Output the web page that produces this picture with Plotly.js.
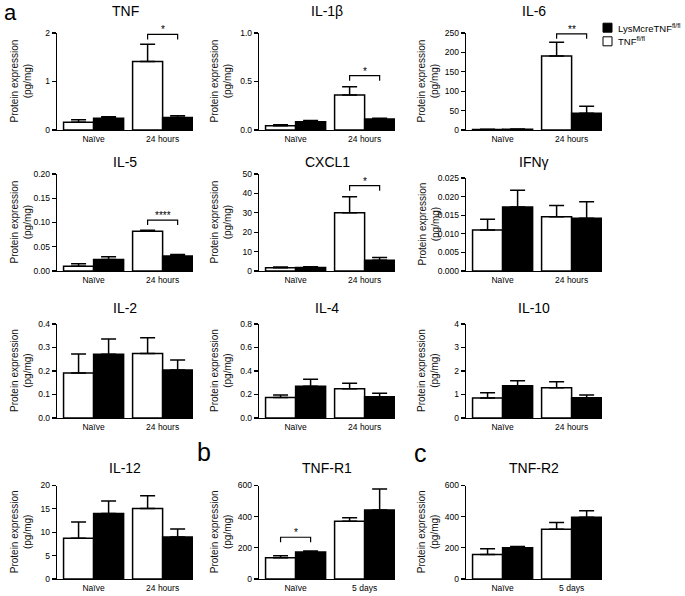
<!DOCTYPE html>
<html><head><meta charset="utf-8">
<script src="https://cdn.plot.ly/plotly-3.0.1.min.js"></script>
<style>html,body{margin:0;padding:0;background:#fff}#chart{width:685px;height:596px}</style>
</head><body><div id="chart"></div>
<script>
// ---------- data ----------
const panelNames = ['TNF','IL-1β','IL-6','IL-5','CXCL1','IFNγ','IL-2','IL-4','IL-10','IL-12','TNF-R1','TNF-R2'];
const groupsAcute = ['Naïve','24 hours'];
const groupsLate = ['Naïve','5 days'];
const panelGroups = [groupsAcute,groupsAcute,groupsAcute,groupsAcute,groupsAcute,groupsAcute,
                     groupsAcute,groupsAcute,groupsAcute,groupsAcute,groupsLate,groupsLate];
const seriesNames = ['TNF<sup>fl/fl</sup>','LysMcreTNF<sup>fl/fl</sup>'];
// TNF fl/fl (white bars)
const flMean = [[0.16,1.41],[0.045,0.36],[1.5,191],[0.0098,0.082],[1.7,30],[0.011,0.0146],
                [0.192,0.275],[0.175,0.25],[0.85,1.29],[8.7,15.1],[136,370],[158,320]];
const flErr  = [[0.05,0.36],[0.008,0.085],[0.5,35],[0.005,0.002],[0.3,8.3],[0.0029,0.003],
                [0.08,0.066],[0.02,0.045],[0.22,0.25],[3.5,2.7],[13,23],[36,42]];
// LysMcreTNF fl/fl (black bars)
const koMean = [[0.24,0.26],[0.086,0.113],[2,43],[0.0236,0.031],[1.8,5.5],[0.0172,0.0142],
                [0.271,0.204],[0.27,0.18],[1.37,0.86],[14.0,9.0],[173,443],[200,396]];
const koErr  = [[0.035,0.035],[0.012,0.008],[0.5,18],[0.006,0.003],[0.4,1.4],[0.0045,0.0044],
                [0.065,0.043],[0.06,0.03],[0.22,0.12],[2.7,1.7],[6,135],[8,42]];
// y axes
const yMax = [2,1,250,0.2,50,0.025,0.4,0.8,4,20,600,600];
const yStep = [1,0.5,50,0.05,10,0.005,0.1,0.2,1,5,200,200];
const yFormat = ['d','.1f','d','.2f','d','.3f','.1f','.1f','d','d','d','d'];
// significance brackets
const sigPanel = [0,1,2,3,4,10];
const sigGroup = [1,1,1,1,1,0];
const sigLabel = ['*','*','**','****','*','*'];
const sigLevel = [1.97,0.56,248,0.105,44,268];
const yTitleText = 'Protein expression<br>(pg/mg)';
const panelLetters = ['a','b','c'];

// ---------- layout constants ----------
const W = 685, H = 596;
const FONT = 'Liberation Sans, Arial, sans-serif';
const colLeft = [57, 259, 466];
const plotW = 136;
const rowTop = [33, 174, 324, 485.5];
const rowBottom = [130, 271, 418, 579];
const titleY = [11.5, 161.7, 307.5, 468];
const yTitleX = [21, 221, 428];
const xRange = [-0.53, 1.44];
const bargap = 0.13;
const halfBar = (1 - bargap) / 4;
const tickDrop = 5; // px

function topOf(p){ const r = Math.floor(p/3); return p === 5 ? rowTop[r] + 4 : rowTop[r]; }

const traces = [];
const layout = {
  width: W, height: H, margin: {l:0, r:0, t:0, b:0},
  paper_bgcolor: '#fff', plot_bgcolor: 'rgba(0,0,0,0)',
  barmode: 'group', bargap: bargap, bargroupgap: 0,
  showlegend: false,
  font: {family: FONT, color: '#000', size: 9},
  annotations: [], shapes: []
};

panelNames.forEach((name, p) => {
  const r = Math.floor(p/3), c = p % 3;
  const id = p === 0 ? '' : String(p+1);
  const xa = 'x' + id, ya = 'y' + id;
  const cats = panelGroups[p];
  const xs = cats.map((_, i) => i);
  const top = topOf(p), bottom = rowBottom[r];
  traces.push({
    type: 'bar', x: xs, y: flMean[p], xaxis: xa, yaxis: ya, name: seriesNames[0],
    marker: {color: '#fff', line: {color: '#000', width: 1.5}},
    error_y: {type: 'data', symmetric: false, array: flErr[p], arrayminus: flErr[p].map(() => 0),
              color: '#000', thickness: 1.5, width: 7.5},
    hoverinfo: 'skip'
  });
  traces.push({
    type: 'bar', x: xs, y: koMean[p], xaxis: xa, yaxis: ya, name: seriesNames[1],
    marker: {color: '#000', line: {color: '#000', width: 1.5}},
    error_y: {type: 'data', symmetric: false, array: koErr[p], arrayminus: koErr[p].map(() => 0),
              color: '#000', thickness: 1.5, width: 7.5},
    hoverinfo: 'skip'
  });
  layout['xaxis' + id] = {
    domain: [colLeft[c]/W, (colLeft[c]+plotW)/W], anchor: ya, range: xRange,
    tickmode: 'array', tickvals: xs, ticktext: cats, ticks: '',
    showline: true, linecolor: '#000', linewidth: 1.3, showgrid: false, zeroline: false,
    tickfont: {size: 8.5, family: FONT, color: '#000'}, fixedrange: true
  };
  layout['yaxis' + id] = {
    domain: [1 - bottom/H, 1 - top/H], anchor: xa, range: [0, yMax[p]],
    tickmode: 'linear', tick0: 0, dtick: yStep[p], tickformat: yFormat[p],
    ticks: 'outside', ticklen: 4, tickwidth: 1.2, tickcolor: '#000',
    showline: true, linecolor: '#000', linewidth: 1.3, showgrid: false, zeroline: false,
    tickfont: {size: 8.5, family: FONT, color: '#000'}, fixedrange: true
  };
  // panel title
  layout.annotations.push({
    xref: 'paper', yref: 'paper', x: (colLeft[c] + plotW/2)/W, y: 1 - titleY[r]/H,
    xanchor: 'center', yanchor: 'middle', showarrow: false, text: name,
    font: {size: 14, family: FONT, color: '#000'}
  });
  // y axis title
  layout.annotations.push({
    xref: 'paper', yref: 'paper', x: yTitleX[c]/W, y: 1 - ((top + bottom)/2)/H,
    xanchor: 'center', yanchor: 'middle', showarrow: false, text: yTitleText, textangle: -90,
    font: {size: 10, family: FONT, color: '#111'}
  });
});

// significance brackets
sigPanel.forEach((p, k) => {
  const r = Math.floor(p/3);
  const id = p === 0 ? '' : String(p+1);
  const g = sigGroup[k];
  const yv = sigLevel[k];
  const drop = tickDrop * yMax[p] / (rowBottom[r] - topOf(p));
  const x1 = g - halfBar, x2 = g + halfBar;
  layout.shapes.push({
    type: 'path', xref: 'x' + id, yref: 'y' + id,
    path: `M${x1},${yv - drop} L${x1},${yv} L${x2},${yv} L${x2},${yv - drop}`,
    line: {color: '#000', width: 1.2}
  });
  layout.annotations.push({
    xref: 'x' + id, yref: 'y' + id, x: g, y: yv, xanchor: 'center', yanchor: 'bottom',
    yshift: -3, showarrow: false, text: sigLabel[k], font: {size: 10, family: FONT, color: '#000'}
  });
});

// legend (drawn manually)
const legendY = [27.7, 41.3];
const legendFill = ['#000', '#fff'];
const legendText = [seriesNames[1], seriesNames[0]];
legendY.forEach((yc, i) => {
  layout.shapes.push({
    type: 'rect', xref: 'paper', yref: 'paper',
    x0: 603/W, x1: 612/W, y0: 1 - (yc + 4.5)/H, y1: 1 - (yc - 4.5)/H,
    fillcolor: legendFill[i], line: {color: '#000', width: 1}
  });
  layout.annotations.push({
    xref: 'paper', yref: 'paper', x: 616/W, y: 1 - yc/H, xanchor: 'left', yanchor: 'middle',
    showarrow: false, text: legendText[i], font: {size: 9.5, family: FONT, color: '#000'}
  });
});

// panel letters
const letterPos = [[10, 13], [203.5, 452], [420, 453]];
const letterSize = [22, 25, 25];
panelLetters.forEach((t, i) => {
  layout.annotations.push({
    xref: 'paper', yref: 'paper', x: letterPos[i][0]/W, y: 1 - letterPos[i][1]/H,
    xanchor: 'center', yanchor: 'middle', showarrow: false, text: t,
    font: {size: letterSize[i], family: FONT, color: '#000'}
  });
});

Plotly.newPlot('chart', traces, layout, {staticPlot: true, displayModeBar: false});
</script>
</body></html>
